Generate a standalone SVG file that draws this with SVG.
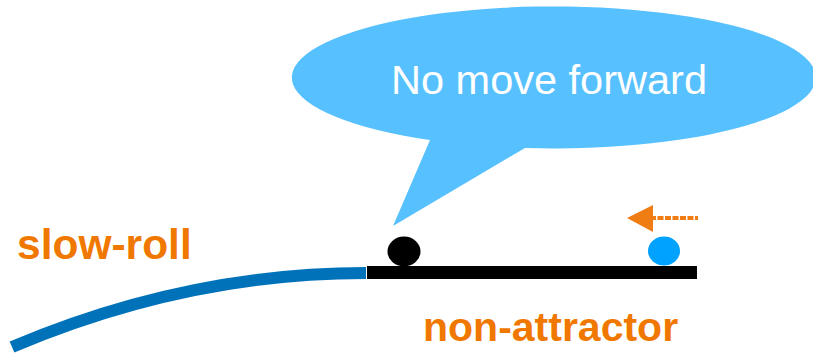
<svg xmlns="http://www.w3.org/2000/svg" width="813" height="353" viewBox="0 0 813 353">
  <style>
    .lbl { font-family: "Liberation Sans", Arial, sans-serif; font-weight: bold; fill: #F07800; }
    .bubble-text { font-family: "Liberation Sans", Arial, sans-serif; fill: #FFFFFF; }
  </style>
  <rect width="813" height="353" fill="#FFFFFF"/>
  <g id="bubble">
    <path d="M430,140 L393,226 L525,148 A262,71 0 1 0 430,140 Z" fill="#57C1FF"/>
    <text class="bubble-text" x="549" y="94" font-size="41.5" text-anchor="middle">No move forward</text>
  </g>
  <g id="connectors">
    <path id="slow-roll-curve" d="M12,347 C85,316 210,273 366,273" fill="none" stroke="#0072BA" stroke-width="12"/>
    <rect id="plateau" x="367" y="266" width="330" height="13" fill="#000000"/>
    <g id="arrow">
      <line x1="650" y1="218" x2="698" y2="218" stroke="#F07D14" stroke-width="4" stroke-dasharray="6 1.5"/>
      <polygon points="627,218 653,205 653,232" fill="#F07D14"/>
    </g>
  </g>
  <g id="ball-black">
    <ellipse cx="404" cy="251.5" rx="16.5" ry="15" fill="#000000"/>
  </g>
  <g id="ball-blue">
    <ellipse cx="664" cy="251" rx="16" ry="14.5" fill="#00A2FF"/>
  </g>
  <g id="label-slow-roll">
    <text class="lbl" x="17" y="259" font-size="42.5">slow-roll</text>
  </g>
  <g id="label-non-attractor">
    <text class="lbl" x="423" y="341" font-size="41">non-attractor</text>
  </g>
</svg>
